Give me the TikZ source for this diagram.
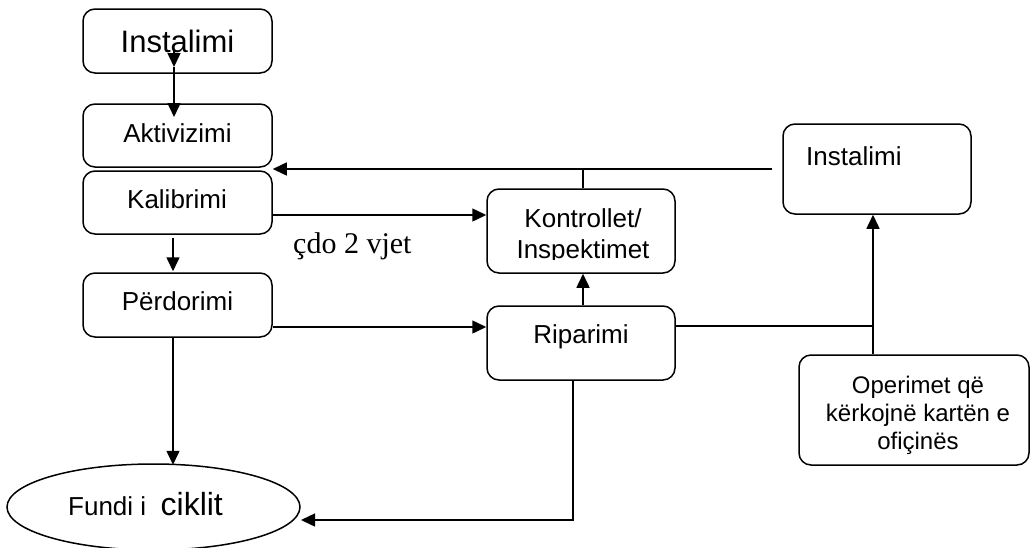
\documentclass[tikz,border=0pt]{standalone}
\usepackage{fontspec}
\setmainfont{Liberation Sans}
\newfontfamily\timesfont{Liberation Serif}
\usetikzlibrary{arrows.meta,shapes.geometric}
\begin{document}
\begin{tikzpicture}[x=1pt,y=-1pt,
  box/.style={draw, line width=1.5pt, rounded corners=12pt, inner sep=0pt},
  lbl/.style={inner sep=0pt, anchor=base, font=\fontsize{26}{31}\selectfont},
  conn/.style={line width=1.5pt},
  arr/.style={conn, -{Triangle[length=14pt,width=13pt]}}]
\useasboundingbox (0,0) rectangle (1031,547);

% boxes
\node[box, minimum width=189pt, minimum height=64pt] (inst) at (177.5,41) {};
\node[box, minimum width=189pt, minimum height=63pt] (akt) at (177.5,135.5) {};
\node[box, minimum width=189pt, minimum height=63pt] (kal) at (177.5,202.5) {};
\node[box, minimum width=189pt, minimum height=64pt] (per) at (177.5,305) {};
\node[box, minimum width=188pt, minimum height=84pt] (kon) at (581,231) {};
\node[box, minimum width=188pt, minimum height=74pt] (rip) at (581,343) {};
\node[box, minimum width=188pt, minimum height=90pt] (inst2) at (877,169) {};
\node[box, minimum width=230pt, minimum height=110pt] (ope) at (914,410) {};
\node[draw, ellipse, line width=1.5pt, inner sep=0pt, minimum width=293pt, minimum height=86pt] (fundi) at (153.5,507) {};

% texts
\node[lbl, font=\fontsize{31}{36}\selectfont] (insttxt) at (177.5,52) {Instalimi};
\node[lbl] (akttxt) at (177.5,142) {Aktivizimi};
\node[lbl] (kaltxt) at (177,208) {Kalibrimi};
\node[lbl] (pertxt) at (177.5,310) {Përdorimi};
\begin{scope}
\clip (480,180) rectangle (690,259);
\node[lbl] (kontxt) at (583,227) {\begin{tabular}[t]{@{}c@{}}Kontrollet/\\Inspektimet\end{tabular}};
\end{scope}
\node[lbl] (riptxt) at (581,343) {Riparimi};
\node[lbl, anchor=base west] (inst2txt) at (806,165) {Instalimi};
\node[lbl, anchor=base, font=\fontsize{24}{28}\selectfont] (opetxt) at (918,393) {\begin{tabular}[t]{@{}c@{}}Operimet që\\kërkojnë kartën e\\ofiçinës\end{tabular}};
\node[lbl, anchor=base west] (funditxt) at (68,515) {Fundi i\ \ {\fontsize{32}{36}\selectfont ciklit}};
\node[inner sep=0pt, anchor=base west, font=\timesfont\fontsize{30}{34}\selectfont] (cdo) at (293,253) {çdo 2 vjet};

% connector points
\coordinate (a1) at (174,50);
\coordinate (a2) at (174,67);
\coordinate (a3) at (174,117);
\coordinate (yK) at (0,215);
\coordinate (yP) at (0,327);
\coordinate (j) at (873,326);
\coordinate (b) at (301,520);

% connectors
\draw[arr] (a1) -- (a2);
\draw[arr] (a2) -- (a3);
\draw[arr] ([xshift=-4.5pt,yshift=-3pt]kal.south) -- ([xshift=-4.5pt,yshift=1pt]per.north);
\draw[arr] ([xshift=-4.5pt]per.south) -- ++(0,127);
\draw[arr] (kal.east |- yK) -- (kon.west |- yK);
\draw[arr] (per.east |- yP) -- (rip.west |- yP);
\draw[arr] ([xshift=2pt]rip.north) -- ([xshift=2pt]kon.south);
\draw[arr] ([xshift=-10pt]inst2.west) -- (akt.east |- inst2.west);
\draw[conn] ([xshift=2pt]kon.north) -- ([xshift=2pt]kon.north |- inst2.west);
\draw[conn] (rip.east |- j) -- (j);
\draw[arr] (ope.north -| j) -- (inst2.south -| j);
\draw[arr] ([xshift=-8pt]rip.south) |- (b);
\end{tikzpicture}
\end{document}
